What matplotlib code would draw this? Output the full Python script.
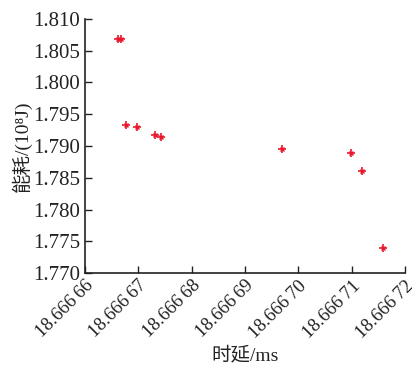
import matplotlib
matplotlib.use("Agg")
import matplotlib.pyplot as plt
from matplotlib.ticker import FixedLocator, FixedFormatter

delay_ms = [18.6666662, 18.6666668, 18.6666678, 18.6666697, 18.6666731,
            18.6666742, 18.6666969, 18.6667099, 18.6667119, 18.6667159]
energy = [1.8069, 1.8069, 1.7933, 1.7930, 1.7918,
          1.7914, 1.7895, 1.7889, 1.7861, 1.7740]

x_ticks = [18.66666, 18.66667, 18.66668, 18.66669, 18.66670, 18.66671, 18.66672]
x_tick_labels = ["18.666\u200966", "18.666\u200967", "18.666\u200968", "18.666\u200969",
                 "18.666\u200970", "18.666\u200971", "18.666\u200972"]
y_ticks = [1.770, 1.775, 1.780, 1.785, 1.790, 1.795, 1.800, 1.805, 1.810]
y_tick_labels = ["1.770", "1.775", "1.780", "1.785", "1.790", "1.795", "1.800", "1.805", "1.810"]

plt.rcParams['font.family'] = ['Liberation Serif', 'Noto Sans CJK SC', 'DejaVu Sans']

fig = plt.figure(figsize=(4.12, 3.65), dpi=100)
ax = fig.add_axes([0.206, 0.252, 0.777, 0.696])

ax.plot(delay_ms, energy, linestyle='none', marker='+', color='#e8182c',
        markersize=6, markeredgewidth=1.2)
ax.plot(delay_ms, energy, linestyle='none', marker='x', color='#e8182c',
        markersize=3.2, markeredgewidth=1.0)

ax.set_xlim(x_ticks[0], x_ticks[-1])
ax.set_ylim(y_ticks[0], y_ticks[-1])
ax.xaxis.set_major_locator(FixedLocator(x_ticks))
ax.xaxis.set_major_formatter(FixedFormatter(x_tick_labels))
ax.yaxis.set_major_locator(FixedLocator(y_ticks))
ax.yaxis.set_major_formatter(FixedFormatter(y_tick_labels))

for s in ['top', 'right']:
    ax.spines[s].set_visible(False)
for s in ['left', 'bottom']:
    ax.spines[s].set_linewidth(1.2)
    ax.spines[s].set_color('#222222')

ax.tick_params(direction='in', length=5, width=1.0, colors='#222222', labelsize=15)
ax.tick_params(axis='x', labelsize=13.5, pad=3)
for lab in ax.get_xticklabels():
    lab.set_rotation(45)
    lab.set_ha('right')
    lab.set_rotation_mode('anchor')
    lab.set_va('top')

ax.set_xlabel('时延/ms', fontsize=14, color='#222222', labelpad=4)
ax.set_ylabel('能耗/(10\u2078J)', fontsize=14, color='#222222', labelpad=1)

fig.savefig('out.png', dpi=100)
